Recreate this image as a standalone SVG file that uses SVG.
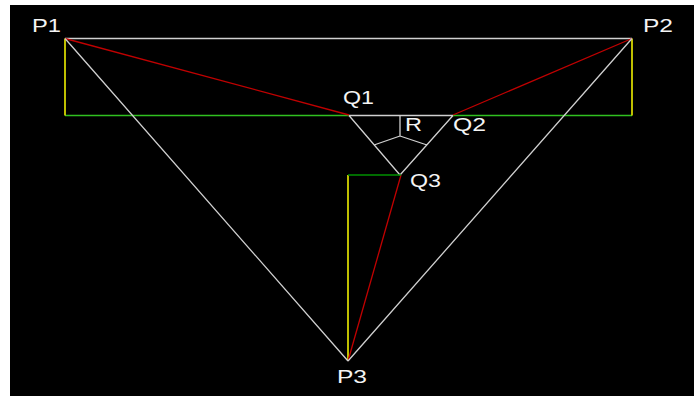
<svg xmlns="http://www.w3.org/2000/svg" width="694" height="396" viewBox="0 0 694 396">
<style>
.l{fill:none;stroke-width:1.3}
.w{stroke:#d0d0d0}.r{stroke:#c00000}.g{stroke:#30c020}.dg{stroke:#009000;stroke-width:1.6}.y{stroke:#e0e000;stroke-width:1.7}
text{font-family:"Liberation Sans",Arial,sans-serif;font-size:17.500px;fill:#f4f4f4}
</style>
<rect width="694" height="396" fill="#fff"/>
<rect x="10" y="5" width="684" height="391" fill="#000"/>
<g id="connectors">
<path class="l w" d="M65 38.500H632"/>
<path class="l g" d="M65 115.500H349M453 115.500H632"/>
<path class="l y" d="M65 38.500V115.500M632 38.500V115.500M348 175V361"/>
<path class="l r" d="M65 38.500L349 115M632 38.500L453 115M401 175L348 361"/>
<path class="l w" d="M65 38.500L348 361M632 38.500L348 361"/>
<path class="l w" d="M349 115.500H453M349 115.500L400 175M453 115.500L400 175M400 115.500V136M400 136L374 145M400 136L427 145"/>
<path class="l dg" d="M348 175H401"/>
</g>
<g id="P1"><text x="32" y="32" textLength="29" lengthAdjust="spacingAndGlyphs">P1</text></g>
<g id="P2"><text x="643" y="32" textLength="30" lengthAdjust="spacingAndGlyphs">P2</text></g>
<g id="P3"><text x="337" y="383" textLength="30" lengthAdjust="spacingAndGlyphs">P3</text></g>
<g id="Q1"><text x="343" y="104" textLength="31" lengthAdjust="spacingAndGlyphs">Q1</text></g>
<g id="Q2"><text x="453" y="131" textLength="33" lengthAdjust="spacingAndGlyphs">Q2</text></g>
<g id="Q3"><text x="410" y="187" textLength="31" lengthAdjust="spacingAndGlyphs">Q3</text></g>
<g id="R"><text x="405" y="131" textLength="17" lengthAdjust="spacingAndGlyphs">R</text></g>
</svg>
